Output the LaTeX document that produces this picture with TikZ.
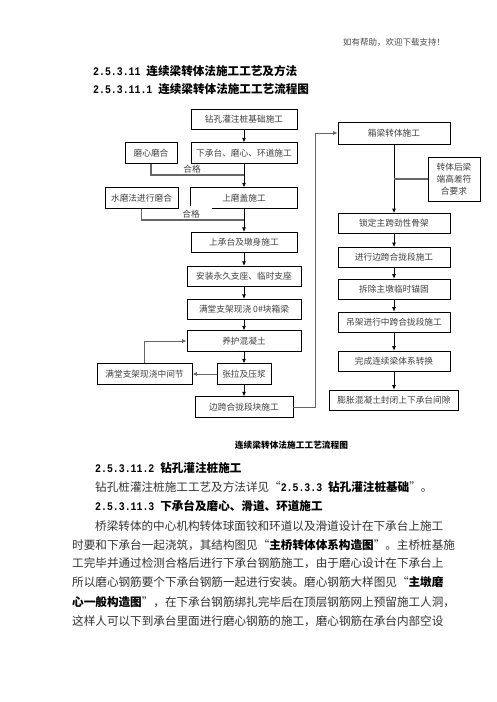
\documentclass[tikz,border=0pt]{standalone}
\usepackage{fontspec}
\setmainfont{Noto Sans CJK SC}
\newfontfamily\numfont[FakeStretch=0.85]{Liberation Mono}
\XeTeXlinebreaklocale "zh"
\XeTeXlinebreakskip=0pt plus 1pt minus 0.3pt
\usetikzlibrary{arrows.meta}

\newcommand\secno[1]{{\numfont #1}}

\tikzset{
  stepbox/.style={draw, line width=0.8pt, minimum height=20.5pt, inner sep=1pt, font=\fontsize{8.7}{11.7}\selectfont, text=black!75},
  flowarrow/.style={-{Latex[length=4.5pt,width=4pt]}, line width=0.8pt},
  sideline/.style={line width=1.2pt, draw=black!60},
  oklabel/.style={inner sep=0pt, font=\fontsize{8.7}{10}\selectfont, text=black!75},
  bodyline/.style={anchor=west, inner sep=0pt, font=\fontsize{11.6}{14}\selectfont, text=black!80},
  headline/.style={bodyline, font=\fontsize{11.6}{14}\selectfont\bfseries, text=black},
}

\begin{document}
\begin{tikzpicture}[x=1pt,y=-1pt]
\fill[white] (0,0) rectangle (496,702);
\useasboundingbox (0,0) rectangle (496,702);

% page head
\node[bodyline, font=\fontsize{8.5}{10}\selectfont, text=black!70] (hdr) at (343,42) {如有帮助，欢迎下载支持！};
\node[headline] (h1) at (93,71) {\secno{2.5.3.11 }连续梁转体法施工工艺及方法};
\node[headline] (h2) at (93,89) {\secno{2.5.3.11.1 }连续梁转体法施工工艺流程图};

% left column
\node[stepbox, minimum width=106pt] (n1) at (244,119.5) {钻孔灌注桩基础施工};
\node[stepbox, minimum width=106pt] (n2) at (244,153) {下承台、磨心、环道施工};
\node[stepbox, minimum width=52pt] (m1) at (151,153) {磨心磨合};
\node[stepbox, draw=none, minimum width=106pt] (n3) at (244,198) {上磨盖施工};
\draw[line width=0.8pt] (n3.south west) ++(21,0) -- (n3.south east) -- (n3.north east) -- (n3.north west) -- ++(0,19);
\node[stepbox, minimum width=73pt] (m2) at (141.5,198) {水磨法进行磨合};
\node[stepbox, minimum width=106pt] (n4) at (244,242.5) {上承台及墩身施工};
\node[stepbox, minimum width=114pt] (n5) at (244,276.5) {安装永久支座、临时支座};
\node[stepbox, minimum width=114pt] (n6) at (244,309.5) {满堂支架现浇 0\#块箱梁};
\node[stepbox, minimum width=114pt] (n7) at (244,341) {养护混凝土};
\node[stepbox, minimum width=54pt] (n8) at (244,374) {张拉及压浆};
\node[stepbox, minimum width=95pt] (m3) at (144.5,374) {满堂支架现浇中间节};
\node[stepbox, minimum width=98pt] (n9) at (244,407) {边跨合拢段块施工};

\foreach \a/\b in {n1/n2,n2/n3,n3/n4,n4/n5,n5/n6,n6/n7,n7/n8,n8/n9}
  \draw[flowarrow] (\a) -- (\b);

\coordinate (j1) at (244,175);
\coordinate (j2) at (244,220);
\draw[sideline] (m1.south) |- (j1);
\draw[sideline] (m2.south) |- (j2);
\node[oklabel] (ok1) at (192,169.5) {合格};
\node[oklabel] (ok2) at (191,214.5) {合格};
\draw[sideline, flowarrow] (n8.west) -- (m3.east);
\draw[sideline, flowarrow] (m3.north) |- (n7.west);

% right column
\node[stepbox, minimum width=112pt, minimum height=22pt] (r1) at (394,133) {箱梁转体施工};
\node[stepbox, minimum width=52pt, minimum height=44pt, align=center] (c1) at (454,179) {转体后梁\\端高差符\\合要求};
\foreach \nm/\y/\txt in {r2/223.5/锁定主跨劲性骨架, r3/257.5/进行边跨合拢段施工, r4/289/拆除主墩临时锚固, r5/322/吊架进行中跨合拢段施工, r6/361/完成连续梁体系转换}
  \node[stepbox, minimum width=112pt, minimum height=20pt] (\nm) at (394,\y) {\txt};
\node[stepbox, minimum width=129pt, minimum height=20pt] (r7) at (394,400) {膨胀混凝土封闭上下承台间隙};

\foreach \a/\b in {r1/r2,r2/r3,r3/r4,r4/r5,r5/r6,r6/r7}
  \draw[flowarrow] (\a) -- (\b);

\draw[sideline] (c1.west) -- (c1.west -| r1);
\coordinate (bend) at (315,407);
\draw[sideline, flowarrow] (n9.east) -- (bend) |- (r1.west);

% caption and text below
\node[inner sep=0pt, font=\fontsize{8.7}{10}\selectfont\bfseries] (cap) at (291.5,445) {连续梁转体法施工工艺流程图};
\node[headline] (h3) at (95,468) {\secno{2.5.3.11.2 }钻孔灌注桩施工};
\node[bodyline] (p1) at (95,487) {钻孔桩灌注桩施工工艺及方法详见“{\bfseries\color{black}\secno{2.5.3.3 }钻孔灌注桩基础}”。};
\node[headline] (h4) at (95,506) {\secno{2.5.3.11.3 }下承台及磨心、滑道、环道施工};
\node[bodyline] (l1) at (95,526) {\makebox[348pt][s]{桥梁转体的中心机构转体球面铰和环道以及滑道设计在下承台上施工}};
\node[bodyline] (l2) at (72,545) {\makebox[371pt][s]{时要和下承台一起浇筑，其结构图见“{\bfseries\color{black}主桥转体体系构造图}”。主桥桩基施}};
\node[bodyline] (l3) at (72,563.5) {\makebox[371pt][s]{工完毕并通过检测合格后进行下承台钢筋施工，由于磨心设计在下承台上}};
\node[bodyline] (l4) at (72,582.5) {\makebox[371pt][s]{所以磨心钢筋要个下承台钢筋一起进行安装。磨心钢筋大样图见“{\bfseries\color{black}主墩磨}}};
\node[bodyline] (l5) at (72,602) {\makebox[371pt][s]{{\bfseries\color{black}心一般构造图}”，在下承台钢筋绑扎完毕后在顶层钢筋网上预留施工人洞，}};
\node[bodyline] (l6) at (72,621) {\makebox[371pt][s]{这样人可以下到承台里面进行磨心钢筋的施工，磨心钢筋在承台内部空设}};
\end{tikzpicture}
\end{document}
